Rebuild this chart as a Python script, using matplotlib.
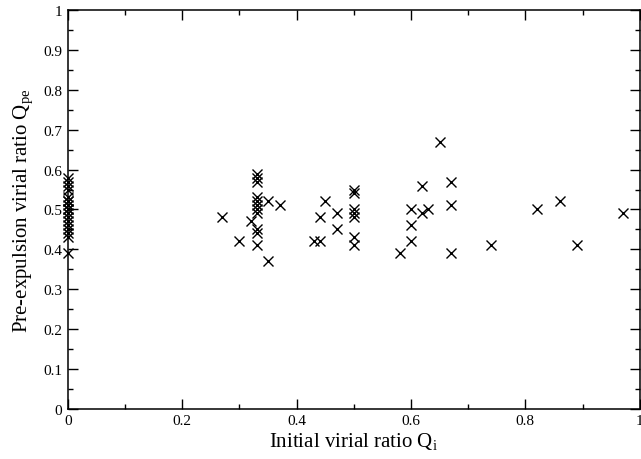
import numpy as np
import matplotlib
matplotlib.use("Agg")
import matplotlib.pyplot as plt
from matplotlib.ticker import MultipleLocator, FormatStrFormatter

plt.rcParams['font.family'] = ['Liberation Serif', 'DejaVu Serif']
plt.rcParams['mathtext.fontset'] = 'custom'
plt.rcParams['mathtext.rm'] = 'Liberation Serif'
plt.rcParams['mathtext.it'] = 'Liberation Serif:italic'

# initial virial ratio Q_i and pre-expulsion virial ratio Q_pe
q_zero = [0.39, 0.43, 0.44, 0.45, 0.46, 0.47, 0.48, 0.49, 0.50, 0.50, 0.51,
          0.52, 0.52, 0.53, 0.55, 0.56, 0.57, 0.58]
qi = [0.27, 0.30, 0.32,
      0.33, 0.33, 0.33, 0.33, 0.33, 0.33, 0.33, 0.33, 0.33, 0.33, 0.33,
      0.35, 0.35, 0.37, 0.43, 0.44, 0.44, 0.45, 0.47, 0.47,
      0.50, 0.50, 0.50, 0.50, 0.50, 0.50, 0.50,
      0.58, 0.60, 0.60, 0.60, 0.62, 0.62, 0.63, 0.65,
      0.67, 0.67, 0.67, 0.74, 0.82, 0.86, 0.89, 0.97]
qpe = [0.48, 0.42, 0.47,
       0.59, 0.58, 0.57, 0.53, 0.52, 0.51, 0.50, 0.49, 0.45, 0.44, 0.41,
       0.52, 0.37, 0.51, 0.42, 0.42, 0.48, 0.52, 0.49, 0.45,
       0.55, 0.54, 0.50, 0.49, 0.48, 0.43, 0.41,
       0.39, 0.50, 0.46, 0.42, 0.56, 0.49, 0.50, 0.67,
       0.57, 0.51, 0.39, 0.41, 0.50, 0.52, 0.41, 0.49]

xs = [0.0] * len(q_zero) + qi
ys = q_zero + qpe

fig = plt.figure(figsize=(6.41, 4.60), dpi=100)
ax = fig.add_axes([0.106, 0.109, 0.892, 0.867])

ax.plot(xs, ys, 'x', color='black', markersize=6.5, markeredgewidth=1.0,
        clip_on=False)

ax.set_xlim(0, 1)
ax.set_ylim(0, 1)
ax.xaxis.set_major_locator(MultipleLocator(0.2))
ax.xaxis.set_minor_locator(MultipleLocator(0.1))
ax.yaxis.set_major_locator(MultipleLocator(0.1))
ax.yaxis.set_minor_locator(MultipleLocator(0.05))
ax.xaxis.set_major_formatter(FormatStrFormatter('%g'))
ax.yaxis.set_major_formatter(FormatStrFormatter('%g'))

ax.tick_params(which='both', direction='in', top=True, right=True,
               labelsize=11, width=1.0)
ax.tick_params(which='major', length=7, pad=4)
ax.tick_params(which='minor', length=3.5)
for s in ax.spines.values():
    s.set_linewidth(1.1)

ax.set_xlabel('Initial virial ratio Q$_\\mathrm{i}$', fontsize=15, labelpad=2)
ax.set_ylabel('Pre-expulsion virial ratio Q$_\\mathrm{pe}$', fontsize=15,
              labelpad=6)

fig.savefig('out.png', dpi=100)
